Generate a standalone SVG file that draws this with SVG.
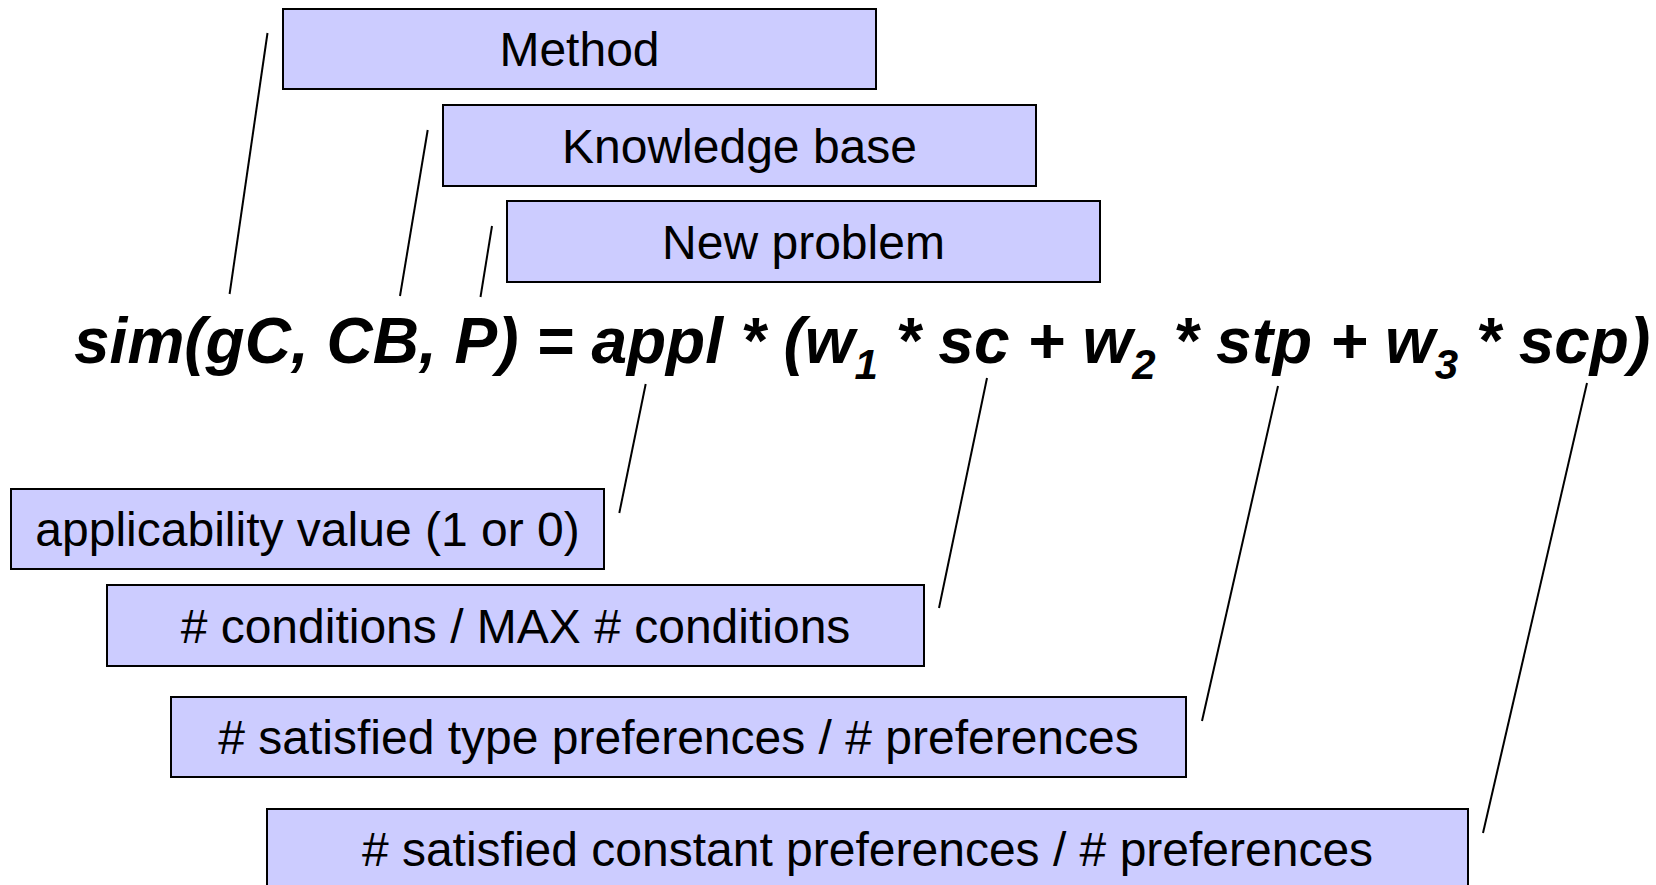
<svg xmlns="http://www.w3.org/2000/svg" width="1656" height="885" viewBox="0 0 1656 885">
  <style>
    .box { fill: #CCCCFF; stroke: #000000; stroke-width: 2; }
    .lbl { font-family: "Liberation Sans", Arial, sans-serif; font-size: 48px; fill: #000000; text-anchor: middle; }
    .lead { stroke: #000000; stroke-width: 2; fill: none; }
    .formula { font-family: "Liberation Sans", Arial, sans-serif; font-size: 64px; font-weight: bold; font-style: italic; fill: #000000; }
    .sub { font-size: 42px; }
  </style>
  <rect width="1656" height="885" fill="#FFFFFF"/>

  <!-- leader lines from formula terms to their descriptions -->
  <g id="connectors">
    <line class="lead" x1="267.5" y1="33" x2="229.6" y2="294"/>
    <line class="lead" x1="427.7" y1="130" x2="400" y2="296"/>
    <line class="lead" x1="492" y1="226" x2="480.5" y2="297"/>
    <line class="lead" x1="645.7" y1="384" x2="619.3" y2="513"/>
    <line class="lead" x1="987" y1="378" x2="939" y2="608"/>
    <line class="lead" x1="1278" y1="386" x2="1202" y2="721"/>
    <line class="lead" x1="1587" y1="383" x2="1483" y2="833"/>
  </g>

  <g id="method">
    <rect class="box" x="283" y="9" width="593" height="80"/>
    <text class="lbl" x="579.5" y="66">Method</text>
  </g>
  <g id="knowledge-base">
    <rect class="box" x="443" y="105" width="593" height="81"/>
    <text class="lbl" x="739.5" y="162.5">Knowledge base</text>
  </g>
  <g id="new-problem">
    <rect class="box" x="507" y="201" width="593" height="81"/>
    <text class="lbl" x="803.5" y="258.5">New problem</text>
  </g>

  <g id="formula">
    <text class="formula" x="74" y="363">sim(gC, CB, P) = appl * (w<tspan class="sub" dy="16">1</tspan><tspan dy="-16"> * sc + w</tspan><tspan class="sub" dy="16">2</tspan><tspan dy="-16"> * stp + w</tspan><tspan class="sub" dy="16">3</tspan><tspan dy="-16"> * scp)</tspan></text>
  </g>

  <g id="applicability">
    <rect class="box" x="11" y="489" width="593" height="80"/>
    <text class="lbl" x="307.5" y="546">applicability value (1 or 0)</text>
  </g>
  <g id="conditions">
    <rect class="box" x="107" y="585" width="817" height="81"/>
    <text class="lbl" x="515.5" y="642.5"># conditions / MAX # conditions</text>
  </g>
  <g id="type-preferences">
    <rect class="box" x="171" y="697" width="1015" height="80"/>
    <text class="lbl" x="678.5" y="754"># satisfied type preferences / # preferences</text>
  </g>
  <g id="constant-preferences">
    <rect class="box" x="267" y="809" width="1201" height="80"/>
    <text class="lbl" x="867.5" y="866"># satisfied constant preferences / # preferences</text>
  </g>
</svg>
